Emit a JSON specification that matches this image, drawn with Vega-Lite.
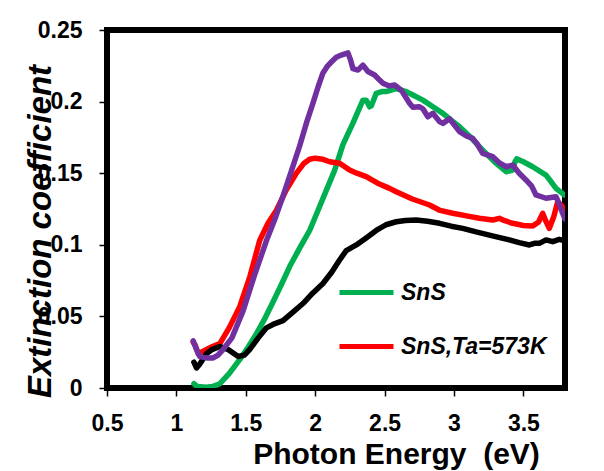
{
  "$schema": "https://vega.github.io/schema/vega-lite/v6.json",
  "autosize": "none",
  "width": 458,
  "height": 358,
  "padding": {"left": 107, "top": 30, "right": 39, "bottom": 83},
  "background": "white",
  "config": {
    "view": {"stroke": "black", "strokeWidth": 6},
    "font": "Liberation Sans",
    "axis": {
      "domain": false,
      "grid": false,
      "labelFlush": false,
      "labelOverlap": false,
      "tickColor": "black",
      "tickWidth": 1.5,
      "tickSize": 8,
      "labelFont": "Liberation Sans",
      "labelFontWeight": "bold",
      "labelFontSize": 23,
      "labelColor": "black",
      "titleFont": "Liberation Sans",
      "titleFontWeight": "bold",
      "titleFontSize": 30,
      "titleColor": "black"
    }
  },
  "data": {
    "values": [
      {"s": "SnS", "e": 1.126, "k": 0.003},
      {"s": "SnS", "e": 1.15, "k": 0.001},
      {"s": "SnS", "e": 1.217, "k": 0.0005},
      {"s": "SnS", "e": 1.26, "k": 0.001},
      {"s": "SnS", "e": 1.313, "k": 0.003},
      {"s": "SnS", "e": 1.38, "k": 0.010},
      {"s": "SnS", "e": 1.457, "k": 0.020},
      {"s": "SnS", "e": 1.52, "k": 0.029},
      {"s": "SnS", "e": 1.577, "k": 0.038},
      {"s": "SnS", "e": 1.64, "k": 0.049},
      {"s": "SnS", "e": 1.696, "k": 0.060},
      {"s": "SnS", "e": 1.76, "k": 0.073},
      {"s": "SnS", "e": 1.817, "k": 0.085},
      {"s": "SnS", "e": 1.89, "k": 0.098},
      {"s": "SnS", "e": 1.96, "k": 0.110},
      {"s": "SnS", "e": 2.02, "k": 0.124},
      {"s": "SnS", "e": 2.08, "k": 0.138},
      {"s": "SnS", "e": 2.14, "k": 0.152},
      {"s": "SnS", "e": 2.2, "k": 0.170},
      {"s": "SnS", "e": 2.272, "k": 0.185},
      {"s": "SnS", "e": 2.344, "k": 0.201},
      {"s": "SnS", "e": 2.368, "k": 0.201},
      {"s": "SnS", "e": 2.392, "k": 0.1964},
      {"s": "SnS", "e": 2.404, "k": 0.197},
      {"s": "SnS", "e": 2.44, "k": 0.2058},
      {"s": "SnS", "e": 2.48, "k": 0.207},
      {"s": "SnS", "e": 2.512, "k": 0.207},
      {"s": "SnS", "e": 2.584, "k": 0.209},
      {"s": "SnS", "e": 2.656, "k": 0.207},
      {"s": "SnS", "e": 2.704, "k": 0.2046},
      {"s": "SnS", "e": 2.776, "k": 0.201},
      {"s": "SnS", "e": 2.848, "k": 0.1964},
      {"s": "SnS", "e": 2.92, "k": 0.1918},
      {"s": "SnS", "e": 2.98, "k": 0.187},
      {"s": "SnS", "e": 3.04, "k": 0.1825},
      {"s": "SnS", "e": 3.11, "k": 0.176},
      {"s": "SnS", "e": 3.183, "k": 0.1685},
      {"s": "SnS", "e": 3.24, "k": 0.163},
      {"s": "SnS", "e": 3.303, "k": 0.157},
      {"s": "SnS", "e": 3.376, "k": 0.151},
      {"s": "SnS", "e": 3.423, "k": 0.1522},
      {"s": "SnS", "e": 3.44, "k": 0.158},
      {"s": "SnS", "e": 3.452, "k": 0.160},
      {"s": "SnS", "e": 3.5, "k": 0.158},
      {"s": "SnS", "e": 3.567, "k": 0.1545},
      {"s": "SnS", "e": 3.663, "k": 0.1487},
      {"s": "SnS", "e": 3.7, "k": 0.144},
      {"s": "SnS", "e": 3.735, "k": 0.1394},
      {"s": "SnS", "e": 3.795, "k": 0.1348},

      {"s": "SnS,Ta=573K", "e": 1.121, "k": 0.032},
      {"s": "SnS,Ta=573K", "e": 1.135, "k": 0.030},
      {"s": "SnS,Ta=573K", "e": 1.157, "k": 0.024},
      {"s": "SnS,Ta=573K", "e": 1.2, "k": 0.026},
      {"s": "SnS,Ta=573K", "e": 1.26, "k": 0.029},
      {"s": "SnS,Ta=573K", "e": 1.313, "k": 0.031},
      {"s": "SnS,Ta=573K", "e": 1.38, "k": 0.042},
      {"s": "SnS,Ta=573K", "e": 1.457, "k": 0.057},
      {"s": "SnS,Ta=573K", "e": 1.53, "k": 0.078},
      {"s": "SnS,Ta=573K", "e": 1.6, "k": 0.103},
      {"s": "SnS,Ta=573K", "e": 1.66, "k": 0.115},
      {"s": "SnS,Ta=573K", "e": 1.72, "k": 0.124},
      {"s": "SnS,Ta=573K", "e": 1.79, "k": 0.138},
      {"s": "SnS,Ta=573K", "e": 1.865, "k": 0.150},
      {"s": "SnS,Ta=573K", "e": 1.92, "k": 0.157},
      {"s": "SnS,Ta=573K", "e": 1.96, "k": 0.1597},
      {"s": "SnS,Ta=573K", "e": 2.0, "k": 0.1605},
      {"s": "SnS,Ta=573K", "e": 2.056, "k": 0.1597},
      {"s": "SnS,Ta=573K", "e": 2.104, "k": 0.158},
      {"s": "SnS,Ta=573K", "e": 2.176, "k": 0.157},
      {"s": "SnS,Ta=573K", "e": 2.248, "k": 0.1522},
      {"s": "SnS,Ta=573K", "e": 2.3, "k": 0.150},
      {"s": "SnS,Ta=573K", "e": 2.368, "k": 0.1476},
      {"s": "SnS,Ta=573K", "e": 2.45, "k": 0.143},
      {"s": "SnS,Ta=573K", "e": 2.536, "k": 0.1394},
      {"s": "SnS,Ta=573K", "e": 2.584, "k": 0.137},
      {"s": "SnS,Ta=573K", "e": 2.7, "k": 0.132},
      {"s": "SnS,Ta=573K", "e": 2.824, "k": 0.1278},
      {"s": "SnS,Ta=573K", "e": 2.9, "k": 0.124},
      {"s": "SnS,Ta=573K", "e": 2.991, "k": 0.122},
      {"s": "SnS,Ta=573K", "e": 3.1, "k": 0.12},
      {"s": "SnS,Ta=573K", "e": 3.183, "k": 0.1185},
      {"s": "SnS,Ta=573K", "e": 3.28, "k": 0.1173},
      {"s": "SnS,Ta=573K", "e": 3.327, "k": 0.1185},
      {"s": "SnS,Ta=573K", "e": 3.36, "k": 0.117},
      {"s": "SnS,Ta=573K", "e": 3.423, "k": 0.115},
      {"s": "SnS,Ta=573K", "e": 3.5, "k": 0.1135},
      {"s": "SnS,Ta=573K", "e": 3.567, "k": 0.1131},
      {"s": "SnS,Ta=573K", "e": 3.61, "k": 0.116},
      {"s": "SnS,Ta=573K", "e": 3.639, "k": 0.122},
      {"s": "SnS,Ta=573K", "e": 3.66, "k": 0.117},
      {"s": "SnS,Ta=573K", "e": 3.687, "k": 0.1115},
      {"s": "SnS,Ta=573K", "e": 3.72, "k": 0.120},
      {"s": "SnS,Ta=573K", "e": 3.747, "k": 0.130},
      {"s": "SnS,Ta=573K", "e": 3.783, "k": 0.1266},
      {"s": "SnS,Ta=573K", "e": 3.8, "k": 0.124},

      {"s": "Series 3", "e": 1.126, "k": 0.018},
      {"s": "Series 3", "e": 1.145, "k": 0.014},
      {"s": "Series 3", "e": 1.17, "k": 0.017},
      {"s": "Series 3", "e": 1.217, "k": 0.024},
      {"s": "Series 3", "e": 1.26, "k": 0.027},
      {"s": "Series 3", "e": 1.313, "k": 0.029},
      {"s": "Series 3", "e": 1.37, "k": 0.027},
      {"s": "Series 3", "e": 1.445, "k": 0.022},
      {"s": "Series 3", "e": 1.49, "k": 0.023},
      {"s": "Series 3", "e": 1.529, "k": 0.027},
      {"s": "Series 3", "e": 1.59, "k": 0.035},
      {"s": "Series 3", "e": 1.649, "k": 0.042},
      {"s": "Series 3", "e": 1.71, "k": 0.045},
      {"s": "Series 3", "e": 1.768, "k": 0.047},
      {"s": "Series 3", "e": 1.84, "k": 0.053},
      {"s": "Series 3", "e": 1.912, "k": 0.059},
      {"s": "Series 3", "e": 1.98, "k": 0.066},
      {"s": "Series 3", "e": 2.056, "k": 0.073},
      {"s": "Series 3", "e": 2.12, "k": 0.081},
      {"s": "Series 3", "e": 2.176, "k": 0.0894},
      {"s": "Series 3", "e": 2.224, "k": 0.096},
      {"s": "Series 3", "e": 2.296, "k": 0.0999},
      {"s": "Series 3", "e": 2.37, "k": 0.105},
      {"s": "Series 3", "e": 2.44, "k": 0.110},
      {"s": "Series 3", "e": 2.51, "k": 0.114},
      {"s": "Series 3", "e": 2.584, "k": 0.1161},
      {"s": "Series 3", "e": 2.65, "k": 0.117},
      {"s": "Series 3", "e": 2.728, "k": 0.1173},
      {"s": "Series 3", "e": 2.81, "k": 0.1165},
      {"s": "Series 3", "e": 2.896, "k": 0.115},
      {"s": "Series 3", "e": 2.98, "k": 0.113},
      {"s": "Series 3", "e": 3.063, "k": 0.1115},
      {"s": "Series 3", "e": 3.16, "k": 0.109},
      {"s": "Series 3", "e": 3.255, "k": 0.1068},
      {"s": "Series 3", "e": 3.33, "k": 0.105},
      {"s": "Series 3", "e": 3.399, "k": 0.1034},
      {"s": "Series 3", "e": 3.47, "k": 0.1015},
      {"s": "Series 3", "e": 3.543, "k": 0.0999},
      {"s": "Series 3", "e": 3.58, "k": 0.101},
      {"s": "Series 3", "e": 3.615, "k": 0.101},
      {"s": "Series 3", "e": 3.663, "k": 0.1034},
      {"s": "Series 3", "e": 3.711, "k": 0.1022},
      {"s": "Series 3", "e": 3.759, "k": 0.1038},
      {"s": "Series 3", "e": 3.8, "k": 0.1028},

      {"s": "Series 4", "e": 1.121, "k": 0.033},
      {"s": "Series 4", "e": 1.14, "k": 0.028},
      {"s": "Series 4", "e": 1.169, "k": 0.022},
      {"s": "Series 4", "e": 1.22, "k": 0.021},
      {"s": "Series 4", "e": 1.265, "k": 0.021},
      {"s": "Series 4", "e": 1.3, "k": 0.023},
      {"s": "Series 4", "e": 1.337, "k": 0.027},
      {"s": "Series 4", "e": 1.4, "k": 0.035},
      {"s": "Series 4", "e": 1.481, "k": 0.054},
      {"s": "Series 4", "e": 1.56, "k": 0.078},
      {"s": "Series 4", "e": 1.649, "k": 0.103},
      {"s": "Series 4", "e": 1.71, "k": 0.118},
      {"s": "Series 4", "e": 1.768, "k": 0.134},
      {"s": "Series 4", "e": 1.83, "k": 0.152},
      {"s": "Series 4", "e": 1.888, "k": 0.169},
      {"s": "Series 4", "e": 1.94, "k": 0.186},
      {"s": "Series 4", "e": 1.984, "k": 0.199},
      {"s": "Series 4", "e": 2.02, "k": 0.210},
      {"s": "Series 4", "e": 2.056, "k": 0.220},
      {"s": "Series 4", "e": 2.09, "k": 0.225},
      {"s": "Series 4", "e": 2.12, "k": 0.228},
      {"s": "Series 4", "e": 2.152, "k": 0.231},
      {"s": "Series 4", "e": 2.188, "k": 0.2325},
      {"s": "Series 4", "e": 2.236, "k": 0.234},
      {"s": "Series 4", "e": 2.255, "k": 0.229},
      {"s": "Series 4", "e": 2.272, "k": 0.223},
      {"s": "Series 4", "e": 2.308, "k": 0.222},
      {"s": "Series 4", "e": 2.344, "k": 0.2255},
      {"s": "Series 4", "e": 2.38, "k": 0.221},
      {"s": "Series 4", "e": 2.428, "k": 0.2186},
      {"s": "Series 4", "e": 2.464, "k": 0.215},
      {"s": "Series 4", "e": 2.488, "k": 0.2128},
      {"s": "Series 4", "e": 2.53, "k": 0.211},
      {"s": "Series 4", "e": 2.572, "k": 0.2116},
      {"s": "Series 4", "e": 2.62, "k": 0.208},
      {"s": "Series 4", "e": 2.68, "k": 0.1988},
      {"s": "Series 4", "e": 2.704, "k": 0.196},
      {"s": "Series 4", "e": 2.752, "k": 0.1964},
      {"s": "Series 4", "e": 2.776, "k": 0.195},
      {"s": "Series 4", "e": 2.812, "k": 0.1894},
      {"s": "Series 4", "e": 2.848, "k": 0.1918},
      {"s": "Series 4", "e": 2.896, "k": 0.186},
      {"s": "Series 4", "e": 2.92, "k": 0.1848},
      {"s": "Series 4", "e": 2.968, "k": 0.188},
      {"s": "Series 4", "e": 3.04, "k": 0.179},
      {"s": "Series 4", "e": 3.09, "k": 0.176},
      {"s": "Series 4", "e": 3.135, "k": 0.1743},
      {"s": "Series 4", "e": 3.17, "k": 0.170},
      {"s": "Series 4", "e": 3.207, "k": 0.1638},
      {"s": "Series 4", "e": 3.28, "k": 0.1615},
      {"s": "Series 4", "e": 3.33, "k": 0.157},
      {"s": "Series 4", "e": 3.376, "k": 0.1545},
      {"s": "Series 4", "e": 3.423, "k": 0.1557},
      {"s": "Series 4", "e": 3.47, "k": 0.150},
      {"s": "Series 4", "e": 3.519, "k": 0.1453},
      {"s": "Series 4", "e": 3.56, "k": 0.141},
      {"s": "Series 4", "e": 3.591, "k": 0.1348},
      {"s": "Series 4", "e": 3.663, "k": 0.1325},
      {"s": "Series 4", "e": 3.735, "k": 0.1336},
      {"s": "Series 4", "e": 3.76, "k": 0.128},
      {"s": "Series 4", "e": 3.783, "k": 0.122},
      {"s": "Series 4", "e": 3.8, "k": 0.118}
    ]
  },
  "mark": {"type": "line", "strokeWidth": 5.5, "clip": true, "strokeCap": "round", "strokeJoin": "round"},
  "encoding": {
    "x": {
      "field": "e",
      "type": "quantitative",
      "scale": {"domain": [0.5, 3.8], "nice": false, "zero": false},
      "axis": {
        "values": [0.5, 1, 1.5, 2, 2.5, 3, 3.5],
        "format": "~g",
        "labelPadding": 16,
        "title": "Photon Energy\u00a0 (eV)",
        "titleX": 289,
        "titleY": 75,
        "titleBaseline": "alphabetic",
        "titleAlign": "center"
      }
    },
    "y": {
      "field": "k",
      "type": "quantitative",
      "scale": {"domain": [0, 0.25], "nice": false},
      "axis": {
        "values": [0, 0.05, 0.1, 0.15, 0.2, 0.25],
        "format": "~g",
        "labelPadding": 17,
        "title": "Extinction coefficient",
        "titleFontStyle": "italic",
        "titleFontSize": 33,
        "titleX": -57,
        "titleY": 201,
        "titleBaseline": "alphabetic",
        "titleAlign": "center",
        "titleAngle": 270
      }
    },
    "color": {
      "field": "s",
      "type": "nominal",
      "scale": {
        "domain": ["SnS", "SnS,Ta=573K", "Series 3", "Series 4"],
        "range": ["#00B050", "#FF0000", "#000000", "#7030A0"]
      },
      "legend": {
        "values": ["SnS", "SnS,Ta=573K"],
        "title": null,
        "orient": "none",
        "legendX": 230,
        "legendY": 233,
        "padding": 0,
        "symbolType": "stroke",
        "symbolSize": 2916,
        "symbolStrokeWidth": 5,
        "labelFont": "Liberation Sans",
        "labelFontWeight": "bold",
        "labelFontStyle": "italic",
        "labelFontSize": 23,
        "labelColor": "black",
        "labelOffset": 5,
        "rowPadding": 12
      }
    }
  }
}
